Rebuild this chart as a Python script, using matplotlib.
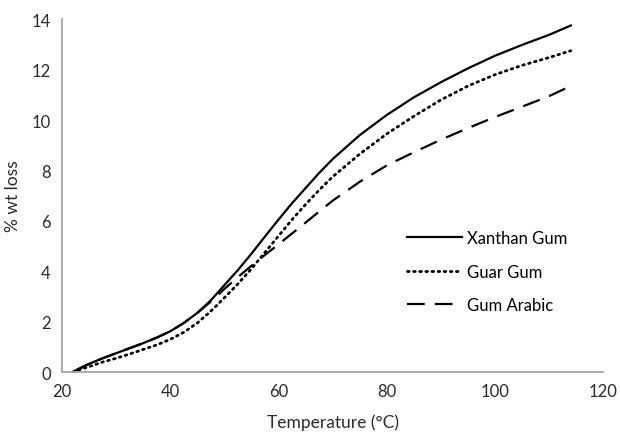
import matplotlib.pyplot as plt

# Temperature (C) and % weight loss
temp = [22, 23, 25, 27.5, 30, 32.5, 35, 37.5, 40, 42.5, 45, 47.5, 50, 52.5, 55, 57.5,
        60, 62.5, 65, 67.5, 70, 75, 80, 85, 90, 95, 100, 105, 110, 114]
xanthan = [0.0, 0.12, 0.33, 0.55, 0.75, 0.95, 1.15, 1.37, 1.62, 1.95, 2.35, 2.85, 3.45,
           4.05, 4.7, 5.38, 6.05, 6.7, 7.3, 7.9, 8.45, 9.4, 10.2, 10.9, 11.5, 12.05,
           12.55, 12.98, 13.38, 13.75]
guar = [0.0, 0.08, 0.22, 0.4, 0.55, 0.72, 0.9, 1.08, 1.3, 1.58, 1.95, 2.42, 2.95,
        3.5, 4.1, 4.75, 5.4, 6.05, 6.65, 7.22, 7.75, 8.65, 9.45, 10.15, 10.8, 11.35,
        11.8, 12.17, 12.48, 12.75]
arabic = [0.0, 0.12, 0.33, 0.55, 0.75, 0.95, 1.15, 1.37, 1.62, 1.95, 2.35, 2.8, 3.3,
          3.77, 4.22, 4.65, 5.07, 5.5, 5.93, 6.37, 6.8, 7.55, 8.2, 8.72, 9.22, 9.68,
          10.12, 10.53, 10.95, 11.35]

plt.rcParams['font.family'] = ['Lato', 'DejaVu Sans']

fig = plt.figure(figsize=(6.2, 4.39), dpi=100)
ax = fig.add_axes([0.1, 0.15, 0.873, 0.804])

ax.plot(temp, xanthan, color='black', lw=1.6, label='Xanthan Gum')
ax.plot(temp, guar, color='black', lw=2.0, linestyle=(0, (0.6, 1.6)),
        dash_capstyle='round', label='Guar Gum')
ax.plot(temp, arabic, color='black', lw=1.6, linestyle=(0, (8, 4.5)), label='Gum Arabic')

ax.set_xlim(20, 120)
ax.set_ylim(0, 14)
ax.set_xticks(range(20, 121, 20))
ax.set_yticks(range(0, 15, 2))
ax.tick_params(length=0, labelsize=12, colors='#2b2b2b', pad=8)
for s in ['top', 'right']:
    ax.spines[s].set_visible(False)
for s in ['left', 'bottom']:
    ax.spines[s].set_color('#a6a6a6')
    ax.spines[s].set_linewidth(1.3)

ax.set_xlabel('Temperature (\u00b0C)', fontsize=12.5, color='#2b2b2b', labelpad=10)
ax.set_ylabel('% wt loss', fontsize=12.5, color='#2b2b2b', labelpad=8)

ax.legend(loc='upper left', bbox_to_anchor=(0.61, 0.445), frameon=False,
          fontsize=12, handlelength=3.3, labelspacing=1.05, handletextpad=0.3)

fig.savefig('out.png', dpi=100)
